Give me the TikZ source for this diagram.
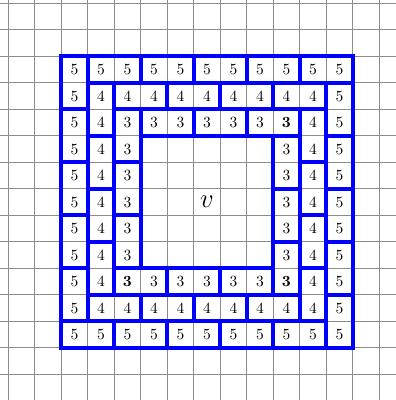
\documentclass[tikz,border=0pt]{standalone}
\begin{document}
\begin{tikzpicture}[x=0.6cm,y=-0.6cm,
  gridline/.style={draw=black!45,line width=0.45pt},
  piece/.style={draw=blue,line width=2.6pt},
  num/.style={font=\normalsize,inner sep=0pt}]
\useasboundingbox (-0.31,-0.125) rectangle (14.63,14.97);
\clip (-0.31,-0.125) rectangle (14.63,14.97);
\foreach \i in {-1,...,16}{
  \draw[gridline] (\i,-1) -- (\i,16);
  \draw[gridline] (-1,\i) -- (16,\i);
}
% pinwheel domino tilings of the three rings
\foreach \m/\M in {0/10,1/9,2/8}{
  \pgfmathtruncatemacro{\mA}{\m+2}
  \pgfmathtruncatemacro{\MB}{\M-2}
  \pgfmathtruncatemacro{\mB}{\m+1}
  \pgfmathtruncatemacro{\mC}{\m+3}
  \pgfmathtruncatemacro{\MA}{\M-1}
  \foreach \r in {\m,\mA,...,\MB}
    \draw[piece] (\m+2,\r+2) rectangle (\m+3,\r+4);
  \foreach \c in {\m,\mA,...,\MB}
    \draw[piece] (\c+2,\M+2) rectangle (\c+4,\M+3);
  \foreach \r in {\mB,\mC,...,\MA}
    \draw[piece] (\M+2,\r+2) rectangle (\M+3,\r+4);
  \foreach \c in {\mB,\mC,...,\MA}
    \draw[piece] (\c+2,\m+2) rectangle (\c+4,\m+3);
}
% numbers
\foreach \c in {0,...,10}{
  \foreach \r in {0,...,10}{
    \pgfmathtruncatemacro{\d}{min(\c,\r,10-\c,10-\r)}
    \ifnum\d<3
      \pgfmathtruncatemacro{\val}{5-\d}
      \pgfmathtruncatemacro{\key}{100*\c+\r}
      \def\ff{}
      \ifnum\key=802 \def\ff{\bfseries}\fi
      \ifnum\key=208 \def\ff{\bfseries}\fi
      \ifnum\key=808 \def\ff{\bfseries}\fi
      \node[num] (n-\c-\r) at (\c+2.5,\r+2.5) {\ff\val};
    \fi
  }
}
\node[font=\LARGE] (v) at (7.5,7.5) {$v$};
\end{tikzpicture}
\end{document}
